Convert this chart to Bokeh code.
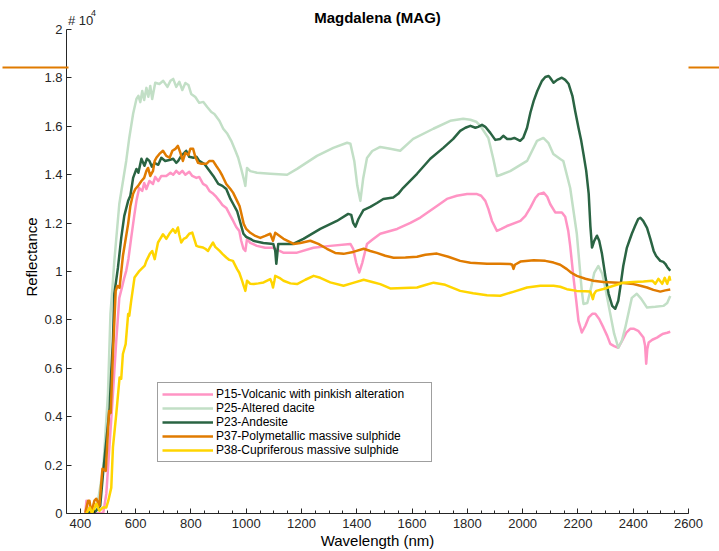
from bokeh.plotting import figure
from bokeh.models import FixedTicker, Legend, LegendItem, Label, LinearAxis
from bokeh.embed import file_html
from bokeh.resources import INLINE

# ---------------- data (wavelength nm, reflectance) ----------------
wl_p15 = [418, 422, 429, 454, 483, 494, 505, 518, 530, 541, 552, 559, 566, 574, 584, 595, 603, 613, 624, 631, 639, 650,
          663, 671, 682, 693, 711, 726, 736, 747, 758, 769, 780, 794, 805, 820, 830, 844, 856, 867, 881, 892, 903, 914,
          928, 943, 953, 964, 975, 982, 990, 997, 1003, 1015, 1039, 1069, 1098, 1134, 1184, 1243, 1304, 1377, 1387,
          1398, 1409, 1420, 1437, 1456, 1485, 1546, 1594, 1630, 1690, 1726, 1762, 1799, 1835, 1850, 1865, 1876, 1889,
          1907, 1923, 1943, 1992, 2010, 2028, 2046, 2058, 2076, 2089, 2100, 2118, 2142, 2154, 2165, 2172, 2184, 2194,
          2202, 2214, 2227, 2239, 2252, 2263, 2277, 2292, 2306, 2317, 2331, 2346, 2360, 2375, 2389, 2403, 2418, 2437,
          2443, 2447, 2451, 2456, 2469, 2486, 2501, 2509, 2523, 2534]
r_p15 = [0, 525, 30, 0, 30, 810, 2710, 4950, 7140, 8910, 9400, 9740, 10030, 10520, 11390, 12300, 12920, 13450, 13330,
         13660, 13410, 13740, 13620, 13910, 13740, 13950, 13950, 14080, 14000, 14160, 14040, 14160, 14000, 14120, 13950,
         13870, 13910, 13620, 13540, 13330, 13210, 13080, 12920, 12750, 12630, 12300, 12090, 11840, 11680, 11270, 10940,
         10850, 11350, 11180, 11060, 10980, 10980, 10780, 10780, 10980, 11060, 11140, 10940, 10360, 9960, 10360, 11140,
         11310, 11560, 11760, 12010, 12230, 12710, 13000, 13130, 13200, 13200, 13130, 12920, 12590, 12090, 11680, 11760,
         11880, 12090, 12300, 12640, 13040, 13200, 13260, 13090, 12780, 12440, 12440, 12260, 11680, 11060, 9750, 8790,
         7960, 7480, 7760, 8100, 8250, 8250, 8040, 7690, 7340, 7010, 6920, 6850, 7140, 7470, 7630, 7630, 7550, 7270,
         6930, 6190, 6800, 7070, 7180, 7270, 7380, 7430, 7470, 7510]

wl_p25 = [425, 458, 483, 500, 509, 518, 523, 541, 566, 577, 591, 603, 610, 617, 624, 631, 639, 646, 653, 660, 671, 686,
          700, 715, 726, 736, 747, 758, 769, 780, 791, 801, 816, 830, 845, 859, 874, 885, 903, 917, 932, 946, 961, 971,
          982, 993, 997, 1003, 1015, 1039, 1087, 1148, 1184, 1256, 1315, 1365, 1377, 1391, 1402, 1413, 1423, 1437, 1456,
          1485, 1521, 1557, 1604, 1677, 1738, 1785, 1811, 1832, 1847, 1876, 1894, 1907, 1919, 1955, 2016, 2052, 2075,
          2093, 2111, 2136, 2147, 2172, 2196, 2214, 2220, 2234, 2245, 2259, 2274, 2288, 2299, 2317, 2331, 2346, 2359,
          2371, 2395, 2413, 2429, 2450, 2480, 2509, 2523, 2534]
r_p25 = [70, 110, 1890, 4950, 8250, 9610, 10440, 12790, 14570, 15520, 16520, 17130, 17260, 17000, 17460, 17090, 17590,
         17220, 17670, 17130, 17800, 17750, 17880, 17630, 17880, 17960, 17630, 17840, 17500, 17790, 17710, 17340, 17210,
         16970, 17010, 16800, 16590, 16510, 16230, 15900, 15690, 15400, 14990, 14700, 14240, 13740, 13540, 14280, 14150,
         14080, 14040, 14000, 14240, 14780, 15110, 15320, 15280, 14570, 13540, 12920, 13830, 14690, 14980, 15150, 15070,
         14990, 15480, 15900, 16230, 16310, 16270, 16190, 16020, 15520, 14650, 13950, 13990, 14150, 14570, 15400, 15520,
         15320, 14860, 14650, 14570, 13450, 11560, 9200, 8660, 8700, 9200, 9940, 10230, 9910, 9330, 8250, 7430, 6850,
         7140, 7670, 8910, 9080, 8870, 8510, 8540, 8580, 8700, 8990]

wl_p23 = [422, 454, 472, 482, 506, 512, 518, 523, 536, 548, 559, 573, 581, 591, 603, 610, 621, 632, 641, 650, 659, 668,
          682, 693, 707, 722, 736, 747, 754, 765, 776, 783, 794, 809, 820, 830, 849, 867, 881, 899, 914, 928, 943, 953,
          967, 979, 990, 1000, 1015, 1026, 1062, 1098, 1105, 1109, 1113, 1116, 1170, 1207, 1268, 1328, 1369, 1380, 1387,
          1395, 1406, 1424, 1449, 1473, 1496, 1532, 1550, 1568, 1618, 1666, 1713, 1749, 1774, 1793, 1811, 1829, 1839,
          1853, 1865, 1883, 1901, 1919, 1930, 1944, 1959, 1970, 1991, 2002, 2016, 2028, 2040, 2053, 2070, 2082, 2094,
          2100, 2112, 2125, 2142, 2154, 2166, 2180, 2190, 2202, 2212, 2220, 2230, 2239, 2245, 2251, 2259, 2269, 2277,
          2287, 2299, 2311, 2324, 2335, 2346, 2353, 2364, 2377, 2386, 2395, 2407, 2418, 2426, 2436, 2450, 2462, 2474,
          2483, 2498, 2509, 2516, 2523, 2534]
r_p23 = [30, 70, 320, 1640, 4370, 5900, 7140, 9080, 10150, 11390, 12300, 12920, 13130, 13870, 14240, 14080, 14660,
         14370, 14660, 14570, 14330, 14490, 14410, 14700, 14570, 14610, 14660, 14490, 14570, 14780, 14900, 14990, 14740,
         14700, 14740, 14570, 14440, 14160, 13950, 13620, 13540, 13410, 13000, 12790, 12500, 12010, 11560, 11430, 11350,
         11270, 11180, 11140, 10860, 10320, 10780, 11140, 11140, 11350, 11760, 12090, 12380, 12340, 12010, 11850, 12170,
         12540, 12670, 12830, 13000, 13060, 13210, 13460, 14040, 14660, 15110, 15480, 15810, 15940, 16020, 15940, 15980,
         16060, 15980, 15730, 15440, 15480, 15610, 15480, 15480, 15520, 15400, 15520, 15940, 16560, 17050, 17460, 17880,
         18040, 18080, 18000, 17800, 17920, 18010, 17920, 17760, 17260, 16630, 15940, 15400, 14860, 14160, 13210, 11890,
         10990, 11270, 11480, 11270, 10730, 9820, 9080, 8580, 8460, 8790, 9330, 10230, 10980, 11270, 11560, 11890, 12170,
         12220, 12090, 11800, 11350, 10850, 10640, 10440, 10400, 10320, 10190, 10030]

wl_p37 = [418, 428, 433, 440, 451, 458, 469, 480, 492, 498, 504, 510, 518, 528, 534, 542, 554, 563, 573, 581, 591, 599,
          609, 621, 631, 639, 645, 653, 663, 669, 675, 686, 699, 711, 723, 733, 744, 753, 762, 771, 780, 791, 798, 808,
          816, 826, 838, 856, 867, 880, 892, 904, 914, 928, 943, 953, 967, 976, 982, 991, 1000, 1015, 1033, 1051, 1069,
          1087, 1097, 1105, 1135, 1172, 1196, 1232, 1261, 1292, 1322, 1352, 1387, 1425, 1449, 1473, 1503, 1533, 1576,
          1618, 1648, 1690, 1731, 1774, 1811, 1871, 1919, 1955, 1962, 1967, 1972, 1992, 2040, 2082, 2112, 2136, 2160,
          2176, 2196, 2227, 2256, 2292, 2329, 2364, 2401, 2426, 2450, 2473, 2498, 2516, 2534]
r_p37 = [30, 530, 530, 40, 530, 610, 320, 1850, 1760, 3000, 4240, 4160, 6600, 9200, 9400, 9330, 10640, 11270, 11970,
         12710, 13210, 13410, 13540, 13740, 13870, 14160, 14280, 13950, 14160, 14570, 14700, 14860, 14990, 14780, 14700,
         14990, 15070, 15190, 14900, 14570, 14900, 14820, 15070, 15070, 14740, 14490, 14450, 14450, 14570, 14570, 14360,
         14160, 13950, 13620, 13410, 13250, 12920, 12710, 12420, 11970, 11760, 11600, 11470, 11390, 11470, 11560, 11270,
         11600, 11350, 11140, 11180, 11270, 11140, 10940, 10770, 10730, 10810, 10940, 10850, 10770, 10650, 10570, 10580,
         10610, 10690, 10740, 10610, 10440, 10360, 10320, 10320, 10310, 10280, 10110, 10280, 10410, 10470, 10440, 10370,
         10280, 10100, 9950, 9820, 9700, 9620, 9570, 9550, 9530, 9480, 9410, 9340, 9240, 9170, 9220, 9260]

wl_p38 = [422, 434, 442, 447, 458, 469, 482, 494, 501, 512, 518, 530, 542, 548, 554, 564, 573, 577, 584, 596, 614, 633,
          639, 651, 660, 669, 681, 689, 699, 711, 722, 735, 744, 753, 758, 765, 774, 783, 794, 805, 812, 820, 830, 844,
          852, 862, 870, 880, 888, 904, 914, 928, 939, 952, 967, 975, 985, 991, 997, 1003, 1015, 1027, 1044, 1063, 1087,
          1093, 1097, 1102, 1105, 1120, 1135, 1160, 1184, 1214, 1244, 1268, 1304, 1352, 1387, 1425, 1456, 1485, 1521,
          1546, 1618, 1648, 1678, 1720, 1774, 1821, 1871, 1919, 1966, 2016, 2064, 2112, 2136, 2160, 2196, 2227, 2245,
          2250, 2254, 2259, 2266, 2292, 2329, 2365, 2400, 2437, 2469, 2480, 2491, 2505, 2514, 2523, 2531, 2534]
r_p38 = [0, 250, 30, 110, 400, 110, 250, 250, 520, 1070, 2730, 4110, 5620, 5570, 6590, 7000, 8240, 8170, 8790, 9750,
         10030, 10240, 10440, 10720, 10850, 10510, 11200, 11350, 11540, 11350, 11560, 11750, 11600, 11820, 11520, 11200,
         11350, 11400, 11560, 11610, 11350, 11060, 11020, 10990, 10940, 10850, 11020, 11200, 11020, 10850, 10730, 10580,
         10480, 10440, 10100, 9950, 9620, 9410, 9200, 9620, 9490, 9480, 9510, 9550, 9690, 9530, 9340, 9620, 9820, 9740,
         9620, 9510, 9480, 9660, 9820, 9740, 9550, 9410, 9530, 9660, 9570, 9480, 9300, 9310, 9340, 9440, 9540, 9450,
         9200, 9100, 9020, 9000, 9160, 9340, 9410, 9410, 9370, 9270, 9200, 9180, 9170, 9000, 8860, 9080, 9200, 9280,
         9410, 9540, 9570, 9590, 9620, 9490, 9700, 9490, 9740, 9490, 9780, 9620]

series_names = ["P15-Volcanic with pinkish alteration", "P25-Altered dacite", "P23-Andesite",
                "P37-Polymetallic massive sulphide", "P38-Cupriferous massive sulphide"]
series_colors = ["#ff94c4", "#c2dfc6", "#2a6443", "#e07b00", "#ffd500"]

x_ticks = [400, 600, 800, 1000, 1200, 1400, 1600, 1800, 2000, 2200, 2400, 2600]
x_minor = [v for v in range(400, 2601, 50)]
y_ticks = [0, 2000, 4000, 6000, 8000, 10000, 12000, 14000, 16000, 18000, 20000]
y_tick_labels = ["0", "0.2", "0.4", "0.6", "0.8", "1", "1.2", "1.4", "1.6", "1.8", "2"]
rule_level = [18420]   # orange rule seen at the page edges

title_text = "Magdalena (MAG)"
exp_base = "# 10"
exp_power = "4"

FONT = "Liberation Sans"
AX = "#262626"
ORANGE = "#e07b00"

# frame reaches the top of the page; the axis itself stops at 2 x 10^4
p = figure(width=719, height=551, x_range=(350, 2600), y_range=(0, 21200), title_location=None,
           output_backend="svg", toolbar_location=None,
           min_border=0, min_border_left=66, min_border_right=31, min_border_top=0, min_border_bottom=38)
p.outline_line_color = None
p.grid.visible = False
p.background_fill_color = "white"
p.border_fill_color = "white"

p.xaxis.ticker = FixedTicker(ticks=x_ticks, minor_ticks=x_minor)
p.yaxis.ticker = FixedTicker(ticks=y_ticks, minor_ticks=[])
p.yaxis.bounds = (0, 20000)
p.yaxis.major_label_overrides = {t: l for t, l in zip(y_ticks, y_tick_labels)}
p.xaxis.axis_label = "Wavelength (nm)"
p.yaxis.axis_label = "Reflectance"
for ax in (p.xaxis[0], p.yaxis[0]):
    ax.axis_line_color = AX
    ax.axis_line_width = 1
    ax.major_tick_line_color = AX
    ax.minor_tick_line_color = AX
    ax.major_tick_in = 5
    ax.major_tick_out = 0
    ax.minor_tick_in = 3
    ax.minor_tick_out = 0
    ax.major_label_text_font = FONT
    ax.major_label_text_font_size = "13px"
    ax.major_label_text_color = AX
    ax.axis_label_text_font = FONT
    ax.axis_label_text_font_size = "15px"
    ax.axis_label_text_font_style = "normal"
    ax.axis_label_text_color = "#000000"
p.xaxis.major_label_standoff = 5
p.xaxis.axis_label_standoff = 1
p.yaxis.major_label_standoff = 4
p.yaxis.axis_label_standoff = 1

# title and exponent note, inside the top strip of the frame
p.add_layout(Label(x=1475, y=20510, text=title_text, text_font=FONT, text_font_size="15px",
                   text_font_style="bold", text_color="#000000", text_align="center",
                   text_baseline="alphabetic"))
p.add_layout(Label(x=355.4, y=20394, text=exp_base, text_font=FONT, text_font_size="13px",
                   text_color=AX, text_baseline="alphabetic"))
p.add_layout(Label(x=438.6, y=20704, text=exp_power, text_font=FONT, text_font_size="9px",
                   text_color=AX, text_baseline="alphabetic"))

# orange rule pieces outside the frame, drawn as long ticks of bare extra axes
def rule_axis(tick_in, tick_out):
    return LinearAxis(ticker=FixedTicker(ticks=rule_level, minor_ticks=[]), axis_line_color=None,
                      major_tick_line_color=ORANGE, major_tick_line_width=2,
                      major_tick_in=tick_in, major_tick_out=tick_out, minor_tick_line_color=None,
                      major_label_overrides={rule_level[0]: ""}, major_label_text_color=None,
                      major_label_standoff=0)
p.add_layout(rule_axis(48, 18), "left")
p.add_layout(rule_axis(0, 31), "right")

data = [(wl_p15, r_p15), (wl_p25, r_p25), (wl_p23, r_p23), (wl_p37, r_p37), (wl_p38, r_p38)]
items = []
for (wl, r), name, col in zip(data, series_names, series_colors):
    rend = p.line(wl, r, line_color=col, line_width=2.5, line_join="round")
    items.append(LegendItem(label=name, renderers=[rend]))

legend = Legend(items=items, location=(91, 51), label_text_font=FONT, label_text_font_size="12px",
                label_text_color="#000000", glyph_width=51, glyph_height=14, label_height=14,
                label_width=211, label_standoff=3, spacing=0, padding=4, margin=0,
                border_line_color="#404040", border_line_width=1, background_fill_alpha=1)
p.add_layout(legend, "center")

open("out.html", "w").write(file_html(p, INLINE))
